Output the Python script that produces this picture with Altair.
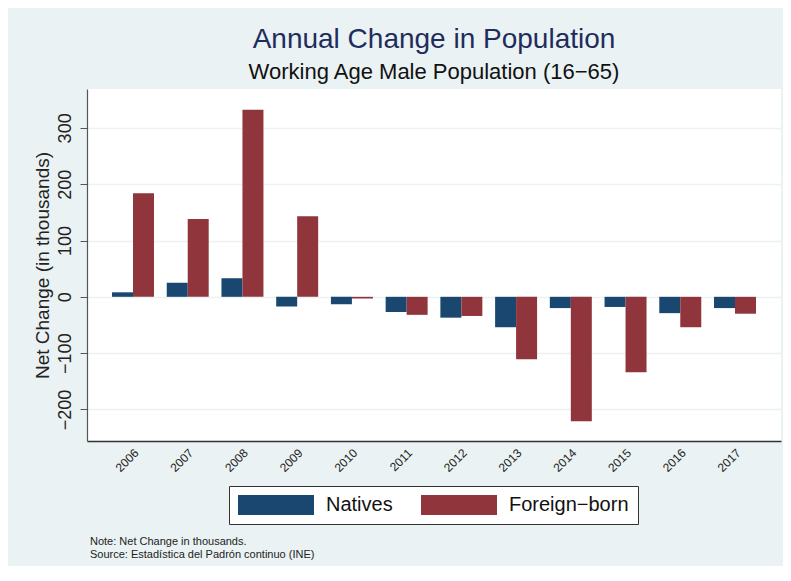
import altair as alt
import pandas as pd

years = ["2006", "2007", "2008", "2009", "2010", "2011", "2012", "2013", "2014", "2015", "2016", "2017"]
natives = [8, 25, 33, -17, -13, -27, -37, -54, -20, -18, -29, -20]
foreign = [184, 138, 332, 143, -3, -32, -34, -111, -221, -134, -54, -30]
series = ["Natives", "Foreign\u2212born"]
colors = ["#1a476f", "#90353b"]
y_ticks = [-200, -100, 0, 100, 200, 300]
note_lines = ["Note: Net Change in thousands.", "Source: Estad\u00edstica del Padr\u00f3n continuo (INE)"]

rows = []
for i, yr in enumerate(years):
    rows.append({"year": yr, "series": series[0], "value": natives[i]})
    rows.append({"year": yr, "series": series[1], "value": foreign[i]})
df = pd.DataFrame(rows)

FONT = "Liberation Sans"

bars = alt.Chart(df).mark_bar().encode(
    x=alt.X("year:N", sort=years,
            scale=alt.Scale(paddingInner=0.233, paddingOuter=0.457),
            axis=alt.Axis(title=None, labelAngle=-45, labelFontSize=12, labelFont=FONT,
                          labelColor="#222", ticks=False, labelPadding=6,
                          domainColor="#333", domainWidth=1.5, grid=False)),
    xOffset=alt.XOffset("series:N", sort=series),
    y=alt.Y("value:Q", scale=alt.Scale(domain=[-256, 369], nice=False, zero=False),
            axis=alt.Axis(title="Net Change (in thousands)", values=y_ticks,
                          labelAngle=-90, labelAlign="center", labelBaseline="alphabetic",
                          labelFontSize=18, labelFont=FONT, labelColor="#222", labelPadding=10,
                          tickSize=7, tickColor="#555", domainColor="#555", domainWidth=1.2,
                          titleFontSize=19, titleFont=FONT, titleFontWeight="normal",
                          titleColor="#222", titlePadding=4,
                          grid=True, gridColor="#EAF2F3", gridWidth=1.5)),
    color=alt.Color("series:N", sort=series,
                    scale=alt.Scale(domain=series, range=colors),
                    legend=alt.Legend(orient="none", legendX=142, legendY=397,
                                      direction="horizontal", title=None,
                                      fillColor="white", strokeColor="#333",
                                      padding=9, symbolType="M-3.8,-1H3.8V1H-3.8Z",
                                      symbolSize=400, symbolStrokeWidth=0, symbolOpacity=1,
                                      symbolOffset=28,
                                      labelFontSize=20, labelFont=FONT, labelColor="#111",
                                      columnPadding=28, labelOffset=40)),
)

notes = alt.Chart(pd.DataFrame({"t": ["\n".join(note_lines)]})).mark_text(
    align="left", baseline="middle", lineBreak="\n", lineHeight=13,
    fontSize=11, font=FONT, color="#222"
).encode(x=alt.value(3), y=alt.value(453), text="t:N")

chart = alt.layer(bars, notes).properties(
    width=694, height=352,
    autosize=alt.AutoSizeParams(type="none"),
    padding={"left": 79, "top": 81, "right": 2, "bottom": 125},
    background="#EAF2F3",
    title=alt.TitleParams(
        text="Annual Change in Population",
        subtitle="Working Age Male Population (16\u221265)",
        anchor="middle", frame="group", font=FONT, fontSize=28, fontWeight="normal",
        color="#1f2d5c", subtitleFont=FONT, subtitleFontSize=22, subtitleColor="#111",
        subtitlePadding=8, offset=6),
).configure_view(fill="white", stroke=None)

chart.save("out.html", embed_options={"renderer": "svg", "actions": False})
